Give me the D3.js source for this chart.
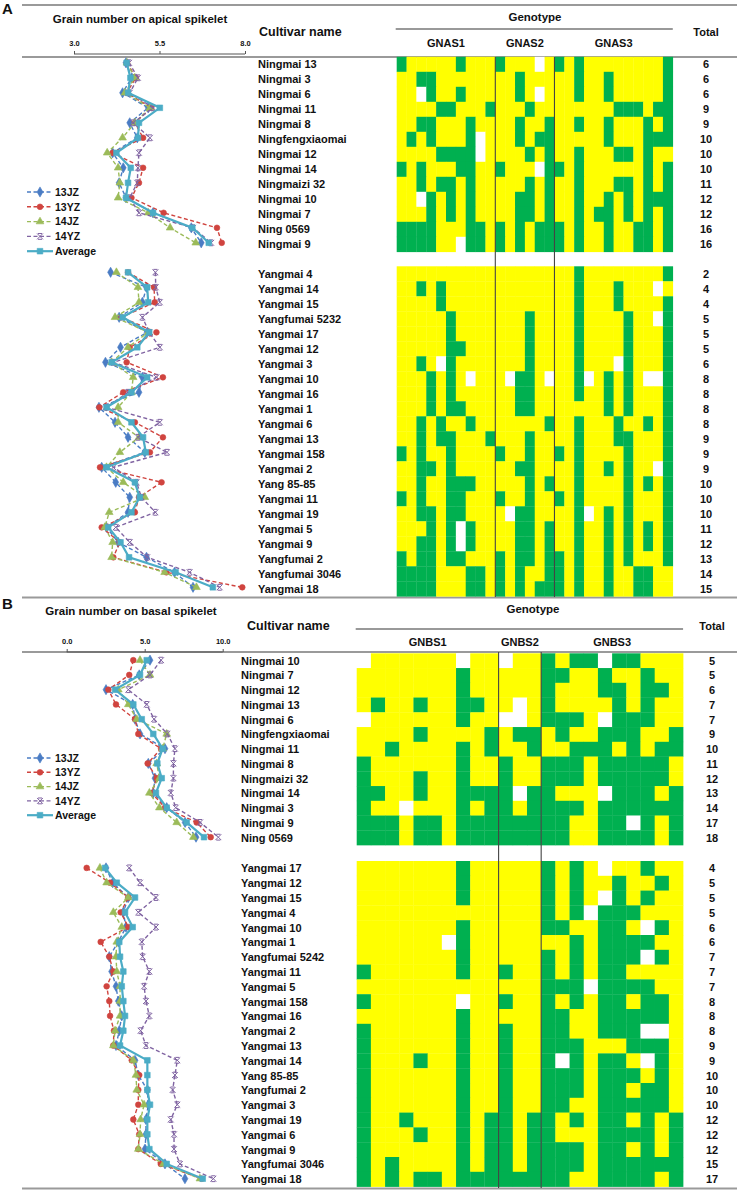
<!DOCTYPE html>
<html><head><meta charset="utf-8">
<script src="https://cdn.jsdelivr.net/npm/d3@7"></script>
<style>
body{margin:0;background:#fff}
svg{display:block}
text{font-family:"Liberation Sans",Arial,sans-serif;font-weight:bold;fill:#111}
</style>
</head><body>
<svg id="c" width="737" height="1191"></svg>
<script>
// ---------------- DATA ----------------
const seriesNames = ["13JZ","13YZ","14JZ","14YZ","Average"];
const ticksA = [3.0, 5.5, 8.0];
const ticksB = [0.0, 5.0, 10.0];
const genesA = ["GNAS1","GNAS2","GNAS3"];
const geneColsA = [10, 6, 12];
const genesB = ["GNBS1","GNBS2","GNBS3"];
const geneColsB = [10, 3, 10];

// Panel A, Ningmai group
const namesA1 = ["Ningmai 13","Ningmai 3","Ningmai 6","Ningmai 11","Ningmai 8","Ningfengxiaomai","Ningmai 12","Ningmai 14","Ningmaizi 32","Ningmai 10","Ningmai 7","Ning 0569","Ningmai 9"];
const totalsA1 = [6,6,6,9,9,10,10,10,11,12,12,16,16];
const greenA1 = [[0,6,10,16,18,27],[2,3,12,18,21,27],[3,6,12,18,21,27],[4,5,9,13,22,23,24,26,27],[2,3,7,12,15,18,21,25,27],[1,3,7,12,14,15,21,25,26,27],[4,5,6,7,13,15,18,22,23,25],[0,2,6,7,10,15,16,18,25,27],[2,4,5,7,13,15,18,22,23,25,27],[3,5,7,12,13,15,18,21,23,25,26,27],[3,5,7,12,13,15,18,20,21,23,25,27],[0,1,2,3,7,8,10,12,14,15,16,18,21,24,25,27],[0,1,2,3,7,8,10,12,14,15,16,18,21,24,25,27]];
const whiteA1 = [[14],[],[2,14],[],[],[8],[8],[14],[],[2],[],[],[6]];
const a1_13JZ = [4.52,4.69,4.42,5.17,4.63,4.85,4.13,4.44,4.32,4.52,5.31,6.43,6.72];
const a1_13YZ = [4.55,4.81,4.54,5.26,4.78,5.02,4.13,5.02,4.90,4.68,5.62,7.18,7.32];
const a1_14JZ = [4.55,4.78,4.49,5.22,4.78,4.42,3.97,4.29,4.34,4.29,5.17,5.81,6.56];
const a1_14YZ = [4.61,4.87,4.63,5.31,4.73,5.22,4.90,4.87,4.85,4.63,4.90,6.48,7.01];
const a1_Avg  = [4.54,4.65,4.58,5.51,4.90,4.87,4.24,4.66,4.58,4.52,5.31,6.46,6.94];

// Panel A, Yangmai group
const namesA2 = ["Yangmai 4","Yangmai 14","Yangmai 15","Yangfumai 5232","Yangmai 17","Yangmai 12","Yangmai 3","Yangmai 10","Yangmai 16","Yangmai 1","Yangmai 6","Yangmai 13","Yangmai 158","Yangmai 2","Yang 85-85","Yangmai 11","Yangmai 19","Yangmai 5","Yangmai 9","Yangfumai 2","Yangfumai 3046","Yangmai 18"];
const totalsA2 = [2,4,4,5,5,5,6,8,8,8,8,9,9,9,10,10,10,11,12,13,14,15];
const greenA2 = [[18,27],[2,4,18,22],[4,18,22,27],[5,13,18,23,27],[5,13,18,23,27],[5,6,13,18,23,27],[2,5,13,18,23,27],[3,5,12,13,18,21,23,27],[3,5,12,13,18,21,23,27],[3,5,6,12,13,21,23,27],[2,4,7,15,18,22,25,27],[2,4,5,9,13,18,22,23,27],[0,2,5,10,13,16,18,23,27],[2,3,5,12,13,18,21,23,27],[2,5,6,7,13,15,18,23,25,27],[0,2,5,6,10,13,16,18,23,27],[2,3,5,6,12,13,18,21,23,27],[3,5,7,12,13,15,18,21,23,25,27],[2,3,5,7,12,13,15,18,21,23,25,27],[0,2,3,5,6,10,12,13,15,16,18,21,23,27],[0,1,2,3,7,8,10,12,15,16,18,21,24,25],[0,1,2,3,7,8,10,12,14,15,16,18,21,24,25]];
const whiteA2 = [[],[26],[],[26],[],[],[4,22],[7,11,15,19,25,26],[],[],[],[],[],[26],[],[],[11,19],[6],[6],[],[],[]];
const a2_13JZ = [4.07,5.12,5.00,4.32,5.14,4.36,3.92,5.00,4.90,3.73,4.20,4.58,5.07,3.81,4.22,4.63,4.58,3.95,4.29,5.12,5.94,6.48];
const a2_13YZ = [4.58,5.34,5.36,4.39,5.41,4.63,4.54,5.60,4.44,3.74,4.78,5.60,5.22,3.76,5.56,4.90,4.78,3.81,4.34,4.15,5.70,7.92];
const a2_14JZ = [4.24,4.87,4.90,4.20,5.17,4.58,4.10,4.73,4.68,4.29,4.29,4.90,4.34,3.95,4.44,5.07,4.03,3.90,4.13,4.10,5.65,6.58];
const a2_14YZ = [5.38,5.39,5.51,5.00,5.20,5.51,4.15,5.41,4.58,3.95,5.51,4.87,5.72,4.15,4.83,4.97,5.38,4.22,4.63,5.14,6.38,7.26];
const a2_Avg  = [4.58,5.14,5.17,4.42,5.20,4.85,4.10,5.14,4.68,3.95,4.68,5.02,5.10,3.95,4.78,4.92,4.68,4.00,4.36,4.61,5.97,7.06];

// Panel B, Ningmai group
const namesB1 = ["Ningmai 10","Ningmai 7","Ningmai 12","Ningmai 13","Ningmai 6","Ningfengxiaomai","Ningmai 11","Ningmai 8","Ningmaizi 32","Ningmai 14","Ningmai 3","Ningmai 9","Ning 0569"];
const totalsB1 = [5,5,6,7,7,9,10,11,12,13,14,17,18];
const greenB1 = [[13,15,16,18,19],[7,13,14,17,20],[7,13,17,18,20,21],[1,4,7,8,13,18,20],[7,13,14,15,18,19,20],[4,9,11,12,14,17,18,19,22],[2,7,9,12,15,16,17,19,21,22],[0,7,10,13,14,15,17,18,19,20,21],[0,4,7,10,13,14,15,17,18,19,20,21],[0,1,4,7,8,9,10,12,13,18,19,20,22],[0,7,9,10,12,13,14,15,17,18,19,20,21,22],[0,1,2,4,5,7,8,9,10,11,12,13,14,17,18,20,22],[0,1,2,4,5,7,8,9,10,11,12,13,14,17,18,19,20,22]];
const whiteB1 = [[0,7,10,17],[],[],[11],[0,10,11,17],[],[],[],[],[11,17],[3],[19],[]];
const b1_13JZ = [5.34,4.65,2.52,4.23,4.38,4.70,6.30,5.23,5.66,5.55,6.41,7.59,8.29];
const b1_13YZ = [4.27,4.01,2.67,3.16,4.38,4.59,6.05,5.19,5.77,5.45,6.30,8.33,9.23];
const b1_14JZ = [4.70,5.34,3.31,3.95,4.49,6.41,6.15,5.77,5.94,5.30,5.94,7.05,8.12];
const b1_14YZ = [6.05,5.34,3.95,5.13,5.60,6.45,6.94,6.84,6.84,6.67,6.99,8.55,9.72];
const b1_Avg  = [5.13,4.70,3.10,4.27,4.81,5.55,6.15,5.81,6.09,5.72,6.41,7.69,8.80];

// Panel B, Yangmai group
const namesB2 = ["Yangmai 17","Yangmai 12","Yangmai 15","Yangmai 4","Yangmai 10","Yangmai 1","Yangfumai 5242","Yangmai 11","Yangmai 5","Yangmai 158","Yangmai 16","Yangmai 2","Yangmai 13","Yangmai 14","Yang 85-85","Yangfumai 2","Yangmai 3","Yangmai 19","Yangmai 6","Yangmai 9","Yangfumai 3046","Yangmai 18"];
const totalsB2 = [4,5,5,5,6,6,7,7,7,8,8,8,9,9,10,10,10,12,12,12,15,17];
const greenB2 = [[7,13,15,20],[7,13,15,18,21],[7,13,15,18,20],[13,15,17,18,19],[7,13,14,17,18,21],[7,15,17,18,19,20],[7,13,15,17,18,19,21],[0,7,10,13,15,17,18],[13,14,15,17,18,19,20],[0,10,13,15,17,18,20,21],[7,13,14,17,18,19,20,21],[0,7,10,13,14,17,18,19],[0,7,10,13,14,15,19,20,21],[0,4,7,10,13,15,17,18,21],[0,7,10,13,14,15,17,18,19,21],[0,7,10,13,14,15,17,18,20,21],[0,7,10,13,14,17,18,19,20,21],[0,3,7,9,10,12,13,15,17,18,20,22],[0,4,7,9,10,12,13,17,18,19,20,22],[0,7,9,10,12,13,14,15,17,18,20,22],[0,2,7,9,10,12,13,14,15,17,18,19,20,21,22],[0,2,4,5,7,8,9,10,11,12,13,14,17,18,19,20,22]];
const whiteB2 = [[17],[],[17],[16],[20],[6],[20],[],[16],[7],[],[20,21],[],[14,20],[],[],[],[],[],[],[],[]];
const b2_13JZ = [2.52,2.95,3.95,3.63,3.80,3.31,2.73,2.88,3.16,3.31,3.53,3.37,3.16,4.38,4.59,5.17,5.23,5.08,5.08,5.02,6.30,7.58];
const b2_13YZ = [1.28,2.78,3.95,3.46,3.95,2.18,2.73,2.99,2.56,2.73,2.78,3.03,2.99,4.17,4.65,4.59,4.59,4.27,4.65,4.59,6.03,8.65];
const b2_14JZ = [2.13,2.56,3.95,2.99,3.53,3.21,3.16,3.21,3.42,3.42,3.42,3.10,2.99,4.27,4.44,4.49,4.96,4.74,4.70,4.59,6.19,8.54];
const b2_14YZ = [4.01,4.70,5.72,4.59,5.72,4.81,4.87,5.30,4.96,5.08,5.30,4.74,5.08,7.09,6.94,6.79,7.09,6.67,6.88,6.88,7.26,9.40];
const b2_Avg  = [2.46,3.21,4.38,3.74,4.23,3.37,3.42,3.63,3.53,3.63,3.74,3.63,3.42,5.17,5.17,5.17,5.34,5.17,5.17,5.30,6.41,8.72];

// ---------------- STYLE ----------------
const COLORS = {"13JZ":"#4A7CC4","13YZ":"#D0443F","14JZ":"#9BBB59","14YZ":"#8064A2","Average":"#4BACC6"};
const YELLOW = "#FFFF00", GREEN = "#00B050", WHITE = "#FFFFFF";
const RULE = "#9a9a9a";

const symStar = {draw(ctx, size){const r = Math.sqrt(size)/2;
  ctx.moveTo(-r,-r);ctx.lineTo(r,r);ctx.moveTo(-r,r);ctx.lineTo(r,-r);
  ctx.moveTo(-r*0.7,-r);ctx.lineTo(r*0.7,-r);ctx.moveTo(-r*0.7,r);ctx.lineTo(r*0.7,r);}};
const MARK = {
  "13JZ": {type:d3.symbolDiamond, size:30, fill:true},
  "13YZ": {type:d3.symbolCircle, size:26, fill:true},
  "14JZ": {type:d3.symbolTriangle, size:26, fill:true},
  "14YZ": {type:symStar, size:34, fill:false},
  "Average": {type:d3.symbolSquare, size:32, fill:true}
};

const svg = d3.select("#c");

function rule(y, x1, x2, w, c){
  svg.append("line").attr("x1",x1).attr("x2",x2).attr("y1",y).attr("y2",y)
    .attr("stroke",c||RULE).attr("stroke-width",w||2);
}
function txt(x,y,s,size,anchor){
  return svg.append("text").attr("x",x).attr("y",y).attr("font-size",size)
    .attr("text-anchor",anchor||"start").text(s);
}
function marker(g, name, x, y){
  const m = MARK[name];
  g.append("path").attr("d", d3.symbol().type(m.type).size(m.size)())
    .attr("transform",`translate(${x},${y})`)
    .attr("fill", m.fill ? COLORS[name] : "none")
    .attr("stroke", COLORS[name]).attr("stroke-width", m.fill?0.6:1);
}

function drawPanel(P){
  // letter + titles
  txt(2, P.letterY, P.letter, 15);
  txt(P.titleX, P.titleY, P.title, 11.5, "middle");
  // x axis for profiles
  const x = d3.scaleLinear().domain(P.xDomain).range(P.xRange);
  const axisG = svg.append("g").attr("transform",`translate(0,${P.axisY})`);
  const ax = d3.axisTop(x).tickValues(P.ticks).tickSize(3).tickFormat(d3.format(".1f"));
  axisG.call(ax);
  axisG.select(".domain").attr("stroke","#555").attr("stroke-width",1.2).attr("d",`M${P.xRange[0]},0H${P.xRange[1]}`);
  axisG.selectAll(".tick line").attr("stroke","#555");
  axisG.selectAll(".tick text").attr("font-size",7.5).attr("font-family","Liberation Sans, Arial").attr("font-weight","bold").attr("fill","#222").attr("dy",-1);
  axisG.selectAll(".tick text").attr("y", P.tickTextY - P.axisY);

  // headers
  txt(P.cultX, P.cultY, "Cultivar name", 12.5);
  txt(P.genoX, P.genoY, "Genotype", 11.5, "middle");
  rule(P.genoLineY, P.heatX0 - 1, P.heatX0 + P.nCols*P.colW, 1.3, "#777");
  txt(P.totalX, P.totalY, "Total", 11, "middle");
  const colX = d3.scaleBand().domain(d3.range(P.nCols)).range([P.heatX0, P.heatX0 + P.nCols*P.colW]);
  let acc = 0;
  P.genes.forEach((g,i)=>{
    const c0 = acc, c1 = acc + P.geneCols[i];
    txt((colX(c0) + colX(c1-1) + colX.bandwidth())/2 + (P.geneDx? P.geneDx[i]:0), P.geneY, g, 11, "middle");
    acc = c1;
  });

  // groups
  P.groups.forEach(G=>{
    const n = G.names.length;
    const yb = d3.scaleBand().domain(d3.range(n)).range([G.y0, G.y0 + n*G.rowH]);
    const hg = svg.append("g");
    for(let r=0;r<n;r++){
      for(let c=0;c<P.nCols;c++){
        let col = YELLOW;
        if(G.green[r].includes(c)) col = GREEN;
        else if(G.white[r].includes(c)) col = WHITE;
        hg.append("rect").attr("x",colX(c)).attr("y",yb(r))
          .attr("width",colX.bandwidth()+0.3).attr("height",yb.bandwidth()+0.3)
          .attr("fill",col);
      }
      txt(P.nameX, yb(r)+yb.bandwidth()/2+4, G.names[r], 11);
      txt(P.totalX, yb(r)+yb.bandwidth()/2+4, G.totals[r], 11, "middle");
    }
    // profile lines
    const lg = svg.append("g");
    seriesNames.forEach(s=>{
      const vals = G.series[s];
      const line = d3.line().x((d)=>x(d)).y((d,i)=>yb(i)+yb.bandwidth()/2 + P.lineDy);
      lg.append("path").attr("d", line(vals)).attr("fill","none")
        .attr("stroke",COLORS[s]).attr("stroke-width", s==="Average"?2.2:1.4)
        .attr("stroke-dasharray", s==="Average"?null:"4,2.5");
      vals.forEach((v,i)=>marker(lg, s, x(v), yb(i)+yb.bandwidth()/2 + P.lineDy));
    });
  });

  // column dividers
  let cum = 0;
  P.geneCols.slice(0,-1).forEach(k=>{
    cum += k;
    const xx = colX(cum);
    svg.append("line").attr("x1",xx).attr("x2",xx).attr("y1",P.divTop).attr("y2",P.divBottom)
      .attr("stroke","#444").attr("stroke-width",1.1);
  });

  // legend
  const lgd = svg.append("g");
  seriesNames.forEach((s,i)=>{
    const y = P.legendY0 + i*P.legendStep;
    lgd.append("line").attr("x1",27).attr("x2",53).attr("y1",y).attr("y2",y)
      .attr("stroke",COLORS[s]).attr("stroke-width", s==="Average"?2.2:1.4)
      .attr("stroke-dasharray", s==="Average"?null:"4,2.5");
    marker(lgd, s, 40, y);
    lgd.append("text").attr("x",55).attr("y",y+3.8).attr("font-size",10.5).text(s);
  });
}

const panelA = {
  letter:"A", letterY:14, title:"Grain number on apical spikelet", titleX:140, titleY:23,
  xDomain:[3,8], xRange:[74,245], ticks:ticksA, axisY:54, tickTextY:47,
  cultX:259, cultY:36, genoX:535, genoY:21, genoLineY:29, totalX:706, totalY:36, geneY:47,
  heatX0:396.7, colW:9.86, nCols:28, genes:genesA, geneCols:geneColsA, nameX:258,
  divTop:57, divBottom:597, legendY0:192, legendStep:14.8, lineDy:-1.5,
  groups:[
    {y0:56.8, rowH:15, names:namesA1, totals:totalsA1, green:greenA1, white:whiteA1,
     series:{"13JZ":a1_13JZ,"13YZ":a1_13YZ,"14JZ":a1_14JZ,"14YZ":a1_14YZ,"Average":a1_Avg}},
    {y0:266.3, rowH:15, names:namesA2, totals:totalsA2, green:greenA2, white:whiteA2,
     series:{"13JZ":a2_13JZ,"13YZ":a2_13YZ,"14JZ":a2_14JZ,"14YZ":a2_14YZ,"Average":a2_Avg}}
  ]
};
const panelB = {
  letter:"B", letterY:609, title:"Grain number on basal spikelet", titleX:131, titleY:615,
  xDomain:[0,10], xRange:[66.7,222.7], ticks:ticksB, axisY:652, tickTextY:645,
  cultX:247, cultY:630, genoX:533, genoY:613, genoLineY:629, totalX:712, totalY:630, geneY:646,
  heatX0:356.7, colW:14.19, nCols:23, genes:genesB, geneCols:geneColsB, nameX:241,
  divTop:652, divBottom:1188, legendY0:758, legendStep:14.3, lineDy:-0.5,
  groups:[
    {y0:653.3, rowH:14.75, names:namesB1, totals:totalsB1, green:greenB1, white:whiteB1,
     series:{"13JZ":b1_13JZ,"13YZ":b1_13YZ,"14JZ":b1_14JZ,"14YZ":b1_14YZ,"Average":b1_Avg}},
    {y0:861, rowH:14.8, names:namesB2, totals:totalsB2, green:greenB2, white:whiteB2,
     series:{"13JZ":b2_13JZ,"13YZ":b2_13YZ,"14JZ":b2_14JZ,"14YZ":b2_14YZ,"Average":b2_Avg}}
  ]
};

// rules
rule(5, 22, 737, 2);
rule(57, 22, 737, 2);
rule(597.5, 22, 737, 2);
rule(652, 22, 737, 2);
rule(1188.5, 22, 737, 2);

drawPanel(panelA);
drawPanel(panelB);
</script>
</body></html>
